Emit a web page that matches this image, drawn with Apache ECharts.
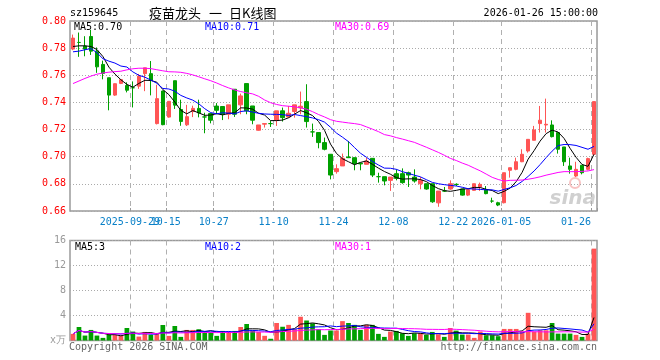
<!DOCTYPE html>
<html><head><meta charset="utf-8">
<script src="https://cdn.jsdelivr.net/npm/echarts@6/dist/echarts.min.js"></script>
<style>html,body{margin:0;padding:0;background:#fff}#c{width:660px;height:360px}</style>
</head><body><div id="c"></div>
<script>
// ---- data ----
const dates = [
'2025-09-15','2025-09-16','2025-09-17','2025-09-18','2025-09-19','2025-09-22','2025-09-23','2025-09-24','2025-09-25','2025-09-26',
'2025-09-29','2025-09-30','2025-10-09','2025-10-10','2025-10-13','2025-10-14','2025-10-15','2025-10-16','2025-10-17','2025-10-20',
'2025-10-21','2025-10-22','2025-10-23','2025-10-24','2025-10-27','2025-10-28','2025-10-29','2025-10-30','2025-10-31','2025-11-03',
'2025-11-04','2025-11-05','2025-11-06','2025-11-07','2025-11-10','2025-11-11','2025-11-12','2025-11-13','2025-11-14','2025-11-17',
'2025-11-18','2025-11-19','2025-11-20','2025-11-21','2025-11-24','2025-11-25','2025-11-26','2025-11-27','2025-11-28','2025-12-01',
'2025-12-02','2025-12-03','2025-12-04','2025-12-05','2025-12-08','2025-12-09','2025-12-10','2025-12-11','2025-12-12','2025-12-15',
'2025-12-16','2025-12-17','2025-12-18','2025-12-19','2025-12-22','2025-12-23','2025-12-24','2025-12-25','2025-12-26','2025-12-29',
'2025-12-30','2025-12-31','2026-01-05','2026-01-06','2026-01-07','2026-01-08','2026-01-09','2026-01-12','2026-01-13','2026-01-14',
'2026-01-15','2026-01-16','2026-01-19','2026-01-20','2026-01-21','2026-01-22','2026-01-23','2026-01-26'];

const tickDates  = ['2025-09-29','2025-10-15','2025-10-27','2025-11-10','2025-11-24','2025-12-08','2025-12-22','2026-01-05','2026-01-26'];
const tickLabels = ['2025-09-29','10-15','10-27','11-10','11-24','12-08','12-22','2026-01-05','01-26'];

const opens = [
.7793,.7842,.7815,.7886,.7778,.7680,.7582,.7454,.7540,.7525,
.7508,.7520,.7612,.7612,.7244,.7484,.7292,.7560,.7348,.7235,
.7333,.7356,.7293,.7318,.7373,.7370,.7313,.7497,.7382,.7539,
.7374,.7195,.7240,.7244,.7269,.7338,.7293,.7333,.7360,.7406,
.7183,.7178,.7104,.7018,.6890,.6932,.6998,.6993,.6952,.6944,
.6988,.6853,.6853,.6826,.6875,.6875,.6882,.6850,.6801,.6801,
.6801,.6660,.6747,.6762,.6796,.6762,.6717,.6752,.6777,.6757,
.6673,.6661,.6661,.6900,.6907,.6963,.7042,.7121,.7244,.7234,
.7234,.7178,.7072,.6932,.6858,.6937,.6907,.7018];
const closes = [
.7874,.7842,.7793,.7778,.7662,.7614,.7454,.7538,.7568,.7490,
.7508,.7594,.7655,.7562,.7428,.7236,.7408,.7380,.7260,.7295,
.7356,.7323,.7293,.7269,.7342,.7313,.7382,.7313,.7448,.7338,
.7269,.7234,.7244,.7244,.7338,.7288,.7320,.7382,.7372,.7259,
.7183,.7104,.7055,.6865,.6912,.6988,.6993,.6949,.6947,.6968,
.6865,.6853,.6821,.6850,.6840,.6809,.6865,.6821,.6826,.6762,
.6668,.6747,.6747,.6801,.6796,.6717,.6757,.6801,.6796,.6728,
.6673,.6644,.6882,.6919,.6963,.7018,.7128,.7197,.7269,.7239,
.7148,.7055,.6963,.6907,.6907,.6882,.6986,.7406];
const lows = [
.7785,.7736,.7740,.7750,.7618,.7570,.7342,.7448,.7535,.7474,
.7363,.7500,.7483,.7452,.7238,.7232,.7288,.7352,.7228,.7226,
.7292,.7290,.7173,.7246,.7315,.7270,.7276,.7293,.7313,.7313,
.7239,.7192,.7215,.7219,.7227,.7259,.7288,.7288,.7313,.7215,
.7146,.7062,.7047,.6833,.6875,.6932,.6990,.6900,.6900,.6944,
.6850,.6809,.6789,.6748,.6826,.6801,.6777,.6809,.6760,.6757,
.6660,.6631,.6740,.6757,.6784,.6713,.6710,.6750,.6748,.6723,
.6660,.6636,.6656,.6846,.6900,.6960,.7030,.7121,.7178,.7178,
.7142,.7023,.6932,.6875,.6850,.6870,.6900,.7013];
const highs = [
.7900,.7915,.7888,.7935,.7805,.7708,.7582,.7540,.7572,.7548,
.7555,.7610,.7655,.7705,.7530,.7487,.7410,.7560,.7420,.7382,
.7376,.7420,.7324,.7318,.7395,.7370,.7382,.7497,.7465,.7539,
.7374,.7234,.7244,.7264,.7338,.7362,.7374,.7382,.7480,.7534,
.7244,.7178,.7141,.7018,.6944,.7023,.7116,.6993,.6956,.6993,
.6988,.6882,.6853,.6850,.6907,.6914,.6890,.6907,.6850,.6801,
.6801,.6747,.6777,.6826,.6804,.6762,.6757,.6801,.6809,.6784,
.6698,.6668,.6882,.6919,.6993,.7055,.7128,.7227,.7374,.7428,
.7268,.7178,.7072,.6993,.6963,.6937,.6993,.7406];
// MA values at the left edge (their window starts before the first visible day)
const ma5Head  = [.7812,.7817,.7817,.7812];
const ma10Head = [.7773,.7778,.7788,.7797,.7766,.7722,.7704,.7690,.7668];
// MA30 of price
const ma30Price = [
.7539,.7558,.7577,.7594,.7608,.7617,.7623,.7627,.7630,.7640,
.7648,.7652,.7652,.7649,.7641,.7633,.7626,.7625,.7622,.7614,
.7603,.7589,.7574,.7560,.7543,.7524,.7507,.7492,.7480,.7471,
.7463,.7445,.7418,.7398,.7385,.7376,.7372,.7368,.7360,.7350,
.7332,.7311,.7293,.7273,.7261,.7255,.7249,.7244,.7237,.7220,
.7203,.7185,.7163,.7154,.7141,.7130,.7118,.7106,.7088,.7070,
.7051,.7032,.7011,.6988,.6972,.6953,.6937,.6916,.6896,.6872,
.6848,.6832,.6821,.6826,.6827,.6828,.6834,.6842,.6852,.6864,
.6874,.6884,.6890,.6890,.6890,.6892,.6895,.6905];
// volume (万)
const volumes = [
1.06,2.16,0.79,1.69,0.79,0.42,0.90,0.90,0.74,2.00,
1.43,0.63,1.37,0.90,1.06,2.48,0.74,2.32,0.58,1.69,
1.69,1.80,1.37,1.32,0.74,1.53,1.43,1.53,2.16,2.64,
1.60,1.35,0.75,0.28,2.80,2.20,2.50,1.80,3.80,3.20,
2.75,1.80,0.90,1.60,1.60,3.10,2.80,2.50,1.70,2.50,
2.50,1.06,0.58,1.43,1.53,1.16,0.74,1.16,1.16,0.90,
1.37,1.00,0.58,2.00,1.58,0.95,0.95,0.42,1.43,0.84,
0.84,0.69,1.85,1.85,1.85,1.43,4.43,1.43,1.64,1.64,
2.80,1.10,1.10,1.10,0.90,0.58,1.10,14.70];

// ---- helpers ----
function movAvg(arr, n, head) {
  return arr.map((_, i) => {
    if (head && i < head.length) return head[i];
    const s = Math.max(0, i - n + 1);
    let t = 0; for (let k = s; k <= i; k++) t += arr[k];
    return +(t / (i - s + 1)).toFixed(4);
  });
}
const UP = '#ff5555', DOWN = '#00a000';
const MONO = '"DejaVu Sans Mono", "Liberation Mono", monospace';
const BLUE_LBL = '#0a80c8';
const tickIdx = tickDates.map(d => dates.indexOf(d));
const isTick = (i) => tickIdx.indexOf(i) >= 0;
// two overlapping labels (09-29 / 10-15) are drawn by two axes so neither gets hidden
const secondIdx = tickIdx[1];
const isMainLabel = (i) => isTick(i) && i !== secondIdx;

const kData = dates.map((d, i) => [opens[i], closes[i], lows[i], highs[i]]);
const ma5 = movAvg(closes, 5, ma5Head), ma10 = movAvg(closes, 10, ma10Head);
const vData = volumes.map((v, i) => ({ value: v, itemStyle: { color: closes[i] > opens[i] ? UP : DOWN } }));
const vma5 = movAvg(volumes, 5), vma10 = movAvg(volumes, 10), vma30 = movAvg(volumes, 30);
const last = a => a[a.length - 1];

const chart = echarts.init(document.getElementById('c'), null, { renderer: 'canvas' });
const txt = (text, x, y, fill, font, align) => ({
  type: 'text', x: x, y: y, silent: true,
  style: { text: text, fill: fill, font: font, align: align || 'left', verticalAlign: 'middle',
           textAlign: align || 'left', textVerticalAlign: 'middle' }
});
const F10 = '10px ' + MONO;
const CJK = '13px "Noto Sans CJK SC"';
const labelFmt = (v) => { const k = tickDates.indexOf(v); const t = k >= 0 ? tickLabels[k] : v;
  return k === tickDates.length - 1 ? '{l|' + t + '}' : '{n|' + t + '}'; };
const labelRich = { n: { padding: [0, 6, 0, 0], color: BLUE_LBL, fontFamily: MONO, fontSize: 10 },
                    l: { padding: [0, 36, 0, 0], color: BLUE_LBL, fontFamily: MONO, fontSize: 10 } };

chart.setOption({
  animation: false,
  backgroundColor: '#fff',
  grid: [
    { left: 70, top: 21, width: 527, height: 190, show: true, borderColor: '#9a9a9a', borderWidth: 1.5 },
    { left: 70, top: 240.5, width: 527, height: 100, show: true, borderColor: '#9a9a9a', borderWidth: 1.5 }
  ],
  xAxis: [
    { type: 'category', gridIndex: 0, data: dates, boundaryGap: true, position: 'bottom', offset: 0,
      axisLine: { show: false },
      axisTick: { show: true, inside: true, length: 3, interval: (i) => isTick(i), lineStyle: { color: '#999' } },
      axisLabel: { interval: (i) => isMainLabel(i), hideOverlap: false,
        margin: 6, color: BLUE_LBL, fontFamily: MONO, fontSize: 10, formatter: labelFmt, rich: labelRich },
      splitLine: { show: true, interval: (i) => isTick(i), lineStyle: { color: '#b0b0b0', type: [5, 4], width: 1 } } },
    { type: 'category', gridIndex: 1, data: dates, boundaryGap: true,
      axisLine: { show: false }, axisTick: { show: false }, axisLabel: { show: false },
      splitLine: { show: true, interval: (i) => isTick(i), lineStyle: { color: '#b0b0b0', type: [5, 4], width: 1 } } },
    { type: 'category', gridIndex: 0, data: dates, boundaryGap: true, position: 'bottom', offset: 0,
      axisLine: { show: false }, axisTick: { show: false }, splitLine: { show: false },
      axisLabel: { interval: (i) => i === secondIdx, hideOverlap: false,
        margin: 6, color: BLUE_LBL, fontFamily: MONO, fontSize: 10, formatter: labelFmt, rich: labelRich } }
  ],
  yAxis: [
    { type: 'value', gridIndex: 0, min: 0.66, max: 0.80, interval: 0.02, scale: true,
      axisLine: { show: false }, axisTick: { show: false },
      axisLabel: { color: '#ff0000', fontFamily: MONO, fontSize: 10, margin: 4, formatter: v => v.toFixed(2) },
      splitLine: { show: true, lineStyle: { color: '#aaa', type: [1, 2] } } },
    { type: 'value', gridIndex: 1, min: 0, max: 16, interval: 4,
      axisLine: { show: false }, axisTick: { show: false },
      axisLabel: { color: '#999', fontFamily: MONO, fontSize: 10, margin: 4, formatter: v => v === 0 ? 'x万' : String(v) },
      splitLine: { show: true, lineStyle: { color: '#aaa', type: [1, 2] } } }
  ],
  series: [
    { type: 'candlestick', xAxisIndex: 0, yAxisIndex: 0, data: kData, barWidth: 4,
      itemStyle: { color: UP, color0: DOWN, borderColor: UP, borderColor0: DOWN, borderColorDoji: DOWN, borderWidth: 1 } },
    { type: 'line', xAxisIndex: 0, yAxisIndex: 0, data: ma5, symbol: 'none', lineStyle: { color: '#000', width: 1 }, z: 5 },
    { type: 'line', xAxisIndex: 0, yAxisIndex: 0, data: ma10, symbol: 'none', lineStyle: { color: '#0000ff', width: 1 }, z: 5 },
    { type: 'line', xAxisIndex: 0, yAxisIndex: 0, data: ma30Price, symbol: 'none', lineStyle: { color: '#ff00ff', width: 1 }, z: 5 },
    { type: 'bar', xAxisIndex: 1, yAxisIndex: 1, data: vData, barWidth: 4.7 },
    { type: 'line', xAxisIndex: 1, yAxisIndex: 1, data: vma5, symbol: 'none', lineStyle: { color: '#000', width: 1 }, z: 5 },
    { type: 'line', xAxisIndex: 1, yAxisIndex: 1, data: vma10, symbol: 'none', lineStyle: { color: '#0000ff', width: 1 }, z: 5 },
    { type: 'line', xAxisIndex: 1, yAxisIndex: 1, data: vma30, symbol: 'none', lineStyle: { color: '#ff00ff', width: 1 }, z: 5 }
  ],
  graphic: [
    txt('sz159645', 70, 13, '#000', F10),
    txt('疫苗龙头', 149, 13, '#000', CJK),
    txt('一', 209, 13, '#000', CJK),
    txt('日K线图', 229, 13, '#000', CJK),
    txt('2026-01-26 15:00:00', 598, 13, '#000', F10, 'right'),
    txt('MA5:' + last(ma5).toFixed(2), 74, 27, '#000', F10),
    txt('MA10:' + last(ma10).toFixed(2), 205, 27, '#0000ff', F10),
    txt('MA30:' + last(ma30Price).toFixed(2), 335, 27, '#ff00ff', F10),
    txt('MA5:' + Math.floor(last(vma5)), 75, 247, '#000', F10),
    txt('MA10:' + Math.floor(last(vma10)), 205, 247, '#0000ff', F10),
    txt('MA30:' + Math.floor(last(vma30)), 335, 247, '#ff00ff', F10),
    txt('Copyright 2026 SINA.COM', 69, 347, '#666', F10),
    txt('http://finance.sina.com.cn', 597, 347, '#666', F10, 'right'),
    txt('sina', 596, 199, 'rgba(150,150,150,0.45)', 'italic bold 20px "DejaVu Sans"', 'right'),
    { type: 'circle', shape: { cx: 575, cy: 183, r: 5 }, silent: true, style: { fill: 'none', stroke: 'rgba(240,120,120,0.45)', lineWidth: 2 } }
  ]
});
</script>
</body></html>
